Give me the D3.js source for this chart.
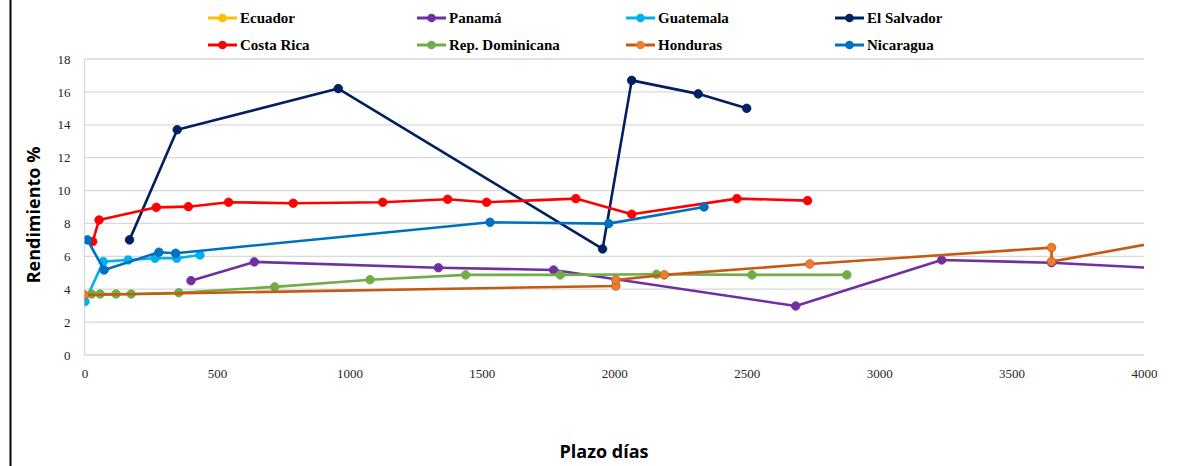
<!DOCTYPE html>
<html>
<head>
<meta charset="utf-8">
<script src="https://cdn.jsdelivr.net/npm/d3@7"></script>
<style>
  body { margin: 0; background: #fff; }
  svg { display: block; }
</style>
</head>
<body>
<svg id="chart" width="1191" height="466"></svg>
<script>
// series values as [plazo días, rendimiento %]
const ecuador = [];
const panama = [[402, 4.52], [641, 5.66], [1336, 5.31], [1771, 5.17], [2685, 2.98], [3236, 5.78], [3651, 5.61], [4380, 5.0]];
const guatemala = [[2, 3.25], [71, 5.68], [165, 5.78], [266, 5.88], [348, 5.88], [436, 6.08]];
const elSalvador = [[170, 7.0], [350, 13.7], [958, 16.2], [1956, 6.45], [2066, 16.7], [2317, 15.88], [2500, 15.0]];
const costaRica = [[31, 6.9], [55, 8.21], [271, 8.98], [392, 9.02], [544, 9.29], [788, 9.23], [1126, 9.29], [1371, 9.47], [1518, 9.29], [1855, 9.51], [2066, 8.56], [2463, 9.51], [2730, 9.39]];
const repDominicana = [[27, 3.71], [59, 3.71], [119, 3.71], [176, 3.71], [356, 3.79], [718, 4.14], [1078, 4.58], [1439, 4.87], [1796, 4.87], [2160, 4.91], [2520, 4.87], [2878, 4.87]];
const honduras = [[0, 3.65], [2006, 4.2], [2006, 4.56], [2189, 4.87], [2738, 5.53], [3651, 6.53], [3651, 5.68], [4380, 7.8]];
const nicaragua = [[11, 7.0], [74, 5.17], [281, 6.25], [344, 6.19], [1531, 8.07], [1979, 7.99], [2339, 9.0]];

const countries = ["Ecuador", "Panamá", "Guatemala", "El Salvador", "Costa Rica", "Rep. Dominicana", "Honduras", "Nicaragua"];
const lineColors = ["#FFC000", "#7030A0", "#00B0F0", "#002060", "#FF0000", "#70AD47", "#C55A11", "#0070C0"];
const dotColors = ["#FFC000", "#7030A0", "#00B0F0", "#002060", "#FF0000", "#70AD47", "#ED7D31", "#0070C0"];
const seriesValues = [ecuador, panama, guatemala, elSalvador, costaRica, repDominicana, honduras, nicaragua];

const xTicks = d3.range(0, 4001, 500);
const yTicks = d3.range(0, 19, 2);

const series = countries.map((name, i) => ({
  name,
  line: lineColors[i],
  dot: dotColors[i],
  values: seriesValues[i]
}));

const svg = d3.select("#chart");
const plot = { left: 84.5, right: 1144, top: 59, bottom: 355 };

const x = d3.scaleLinear().domain([0, 4000]).range([plot.left, plot.right]);
const y = d3.scaleLinear().domain([0, 18]).range([plot.bottom, plot.top]);

svg.append("rect").attr("width", 1191).attr("height", 466).attr("fill", "#fff");

// black frame edge on the left
svg.append("line")
  .attr("x1", 10.5).attr("x2", 10.5)
  .attr("y1", 0).attr("y2", 466)
  .attr("stroke", "#000").attr("stroke-width", 2);

svg.append("defs").append("clipPath").attr("id", "clip")
  .append("rect")
  .attr("x", plot.left).attr("y", 0)
  .attr("width", plot.right - plot.left).attr("height", 466);

// gridlines
svg.append("g")
  .selectAll("line")
  .data(yTicks)
  .join("line")
  .attr("x1", plot.left).attr("x2", plot.right)
  .attr("y1", d => y(d)).attr("y2", d => y(d))
  .attr("stroke", "#D9D9D9").attr("stroke-width", 1.3);

svg.append("line")
  .attr("x1", plot.left).attr("x2", plot.left)
  .attr("y1", y(18)).attr("y2", y(0))
  .attr("stroke", "#D9D9D9").attr("stroke-width", 1.3);

// axes
const xAxis = svg.append("g")
  .attr("transform", `translate(0,${plot.bottom})`)
  .call(d3.axisBottom(x).tickValues(xTicks).tickSize(0).tickPadding(14).tickFormat(d3.format("d")));
xAxis.select(".domain").remove();

const yAxis = svg.append("g")
  .attr("transform", `translate(${plot.left},0)`)
  .call(d3.axisLeft(y).tickValues(yTicks).tickSize(0).tickPadding(14));
yAxis.select(".domain").remove();

svg.selectAll(".tick text")
  .style("font-family", "'Liberation Serif', 'DejaVu Serif', serif")
  .style("font-size", "13px")
  .attr("fill", "#262626");

// series
const line = d3.line().x(d => x(d[0])).y(d => y(d[1]));
const g = svg.append("g").attr("clip-path", "url(#clip)");

series.forEach(s => {
  g.append("path")
    .datum(s.values)
    .attr("fill", "none")
    .attr("stroke", s.line)
    .attr("stroke-width", 2.6)
    .attr("stroke-linejoin", "round")
    .attr("d", line);
  g.append("g")
    .selectAll("circle")
    .data(s.values.filter(d => d[0] <= 4000))
    .join("circle")
    .attr("cx", d => x(d[0]))
    .attr("cy", d => y(d[1]))
    .attr("r", 4.3)
    .attr("fill", s.dot)
    .attr("stroke", s.line)
    .attr("stroke-width", 0.8);
});

// legend, two rows of four
const legend = svg.append("g")
  .selectAll("g")
  .data(series)
  .join("g")
  .attr("transform", (d, i) => `translate(${208 + (i % 4) * 209},${i < 4 ? 18 : 45})`);

legend.append("line")
  .attr("x1", 0).attr("x2", 29)
  .attr("stroke", d => d.line).attr("stroke-width", 3);
legend.append("circle")
  .attr("cx", 14.5).attr("r", 4.3)
  .attr("fill", d => d.dot);
legend.append("text")
  .attr("x", 32).attr("dy", "0.35em")
  .style("font-family", "'Liberation Serif', 'DejaVu Serif', serif")
  .style("font-weight", "bold")
  .style("font-size", "15px")
  .attr("fill", "#000")
  .text(d => d.name);

// axis titles
svg.append("text")
  .attr("transform", "translate(40,215) rotate(-90)")
  .attr("text-anchor", "middle")
  .style("font-family", "'Open Sans', sans-serif")
  .style("font-weight", "bold")
  .style("font-size", "18px")
  .text("Rendimiento %");

svg.append("text")
  .attr("x", 604).attr("y", 458)
  .attr("text-anchor", "middle")
  .style("font-family", "'Open Sans', sans-serif")
  .style("font-weight", "bold")
  .style("font-size", "18px")
  .text("Plazo días");
</script>
</body>
</html>
